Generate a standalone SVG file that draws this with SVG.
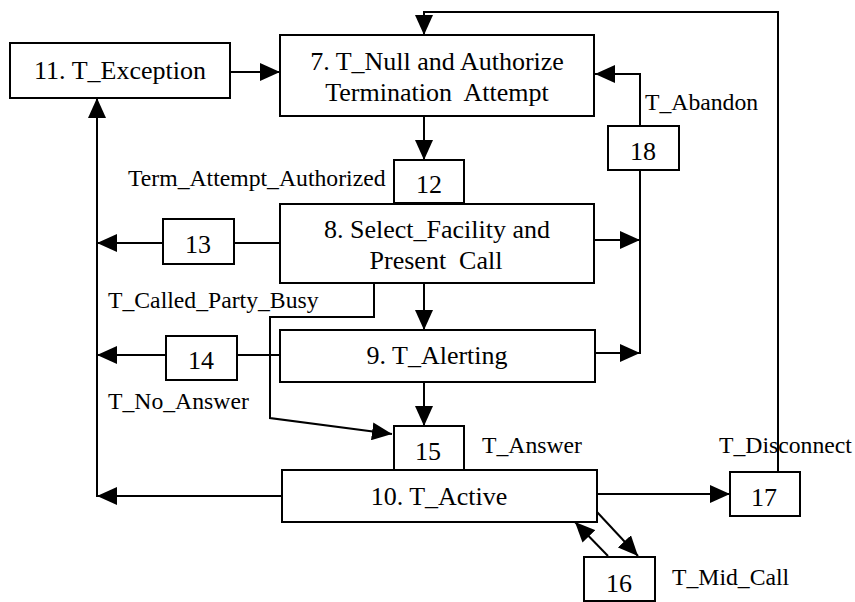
<svg xmlns="http://www.w3.org/2000/svg" width="855" height="602" viewBox="0 0 855 602">
  <style>
    .box { fill: #fff; stroke: #000; stroke-width: 2; }
    .edge { fill: none; stroke: #000; stroke-width: 2; }
    .arr { marker-end: url(#head); }
    .t { font-family: "Liberation Serif", "Times New Roman", serif; font-size: 26px; fill: #000; text-anchor: middle; white-space: pre; }
    .lbl { font-family: "Liberation Serif", "Times New Roman", serif; font-size: 23.7px; fill: #000; }
  </style>
  <defs>
    <marker id="head" viewBox="0 0 20 18" refX="20" refY="9" markerWidth="20" markerHeight="18" markerUnits="userSpaceOnUse" orient="auto">
      <path d="M0,0 L20,9 L0,18 Z" fill="#000"/>
    </marker>
  </defs>
  <rect width="855" height="602" fill="#fff"/>

  <g id="connectors">
    <!-- 11 -> 7 -->
    <line class="edge arr" x1="230" y1="72" x2="280" y2="72"/>
    <!-- 17 loop back to 7 -->
    <polyline class="edge arr" points="778,472 778,12 424,12 424,35"/>
    <!-- 7 -> 12 -->
    <line class="edge arr" x1="424" y1="116" x2="424" y2="160"/>
    <!-- 18 -> 7 -->
    <polyline class="edge arr" points="640,126 640,74 595,74"/>
    <!-- bus into 18 -->
    <line class="edge" x1="640" y1="170" x2="640" y2="354"/>
    <line class="edge arr" x1="594" y1="240" x2="640" y2="240"/>
    <line class="edge arr" x1="595" y1="353" x2="640" y2="353"/>
    <!-- 8 -> 13 -> exception bus -->
    <line class="edge" x1="280" y1="243" x2="234" y2="243"/>
    <line class="edge arr" x1="163" y1="243" x2="97" y2="243"/>
    <!-- 9 -> 14 -> exception bus -->
    <line class="edge" x1="280" y1="355" x2="237" y2="355"/>
    <line class="edge arr" x1="166" y1="355" x2="97" y2="355"/>
    <!-- 10 -> exception bus -->
    <line class="edge arr" x1="282" y1="496" x2="97" y2="496"/>
    <!-- exception bus up to 11 -->
    <line class="edge arr" x1="97" y1="497" x2="97" y2="98"/>
    <!-- 8 -> 9 -->
    <line class="edge arr" x1="424" y1="283" x2="424" y2="330"/>
    <!-- 9 -> 15 -->
    <line class="edge arr" x1="424" y1="382" x2="424" y2="426"/>
    <!-- 8 -> 15 (called party busy path) -->
    <polyline class="edge arr" points="374,283 374,317 270,317 270,418 392,434"/>
    <!-- 10 -> 17 -->
    <line class="edge arr" x1="597" y1="494" x2="730" y2="494"/>
    <!-- 10 <-> 16 -->
    <line class="edge arr" x1="597" y1="512" x2="638" y2="556"/>
    <line class="edge arr" x1="608" y1="556" x2="575" y2="522"/>
  </g>

  <g id="n11">
    <rect class="box" x="10" y="43" width="220" height="55"/>
    <text class="t" x="120" y="79">11. T_Exception</text>
  </g>
  <g id="n7">
    <rect class="box" x="280" y="35" width="314" height="81"/>
    <text class="t" x="437" y="70">7. T_Null and Authorize</text>
    <text class="t" x="437" y="101">Termination  Attempt</text>
  </g>
  <g id="n18">
    <rect class="box" x="608" y="126" width="71" height="44"/>
    <text class="t" x="643" y="160">18</text>
  </g>
  <g id="n8">
    <rect class="box" x="280" y="204" width="314" height="79"/>
    <text class="t" x="437" y="238">8. Select_Facility and</text>
    <text class="t" x="436" y="269">Present  Call</text>
  </g>
  <g id="n12">
    <rect class="box" x="394" y="160" width="70" height="43"/>
    <text class="t" x="429" y="193">12</text>
  </g>
  <g id="n13">
    <rect class="box" x="163" y="219" width="71" height="45"/>
    <text class="t" x="198" y="253">13</text>
  </g>
  <g id="n9">
    <rect class="box" x="280" y="330" width="315" height="52"/>
    <text class="t" x="437" y="364">9. T_Alerting</text>
  </g>
  <g id="n14">
    <rect class="box" x="166" y="336" width="71" height="44"/>
    <text class="t" x="201" y="369">14</text>
  </g>
  <g id="n10">
    <rect class="box" x="282" y="470" width="315" height="52"/>
    <text class="t" x="439" y="505">10. T_Active</text>
  </g>
  <g id="n15">
    <rect class="box" x="394" y="426" width="70" height="44"/>
    <text class="t" x="428" y="460">15</text>
  </g>
  <g id="n17">
    <rect class="box" x="730" y="472" width="70" height="44"/>
    <text class="t" x="764" y="506">17</text>
  </g>
  <g id="n16">
    <rect class="box" x="584" y="557" width="71" height="44"/>
    <text class="t" x="619" y="592">16</text>
  </g>

  <g id="labels">
    <text class="lbl" x="128" y="186">Term_Attempt_Authorized</text>
    <text class="lbl" x="645" y="110">T_Abandon</text>
    <text class="lbl" x="108" y="308">T_Called_Party_Busy</text>
    <text class="lbl" x="108" y="409">T_No_Answer</text>
    <text class="lbl" x="482" y="453">T_Answer</text>
    <text class="lbl" x="719" y="453">T_Disconnect</text>
    <text class="lbl" x="672" y="585">T_Mid_Call</text>
  </g>
</svg>
